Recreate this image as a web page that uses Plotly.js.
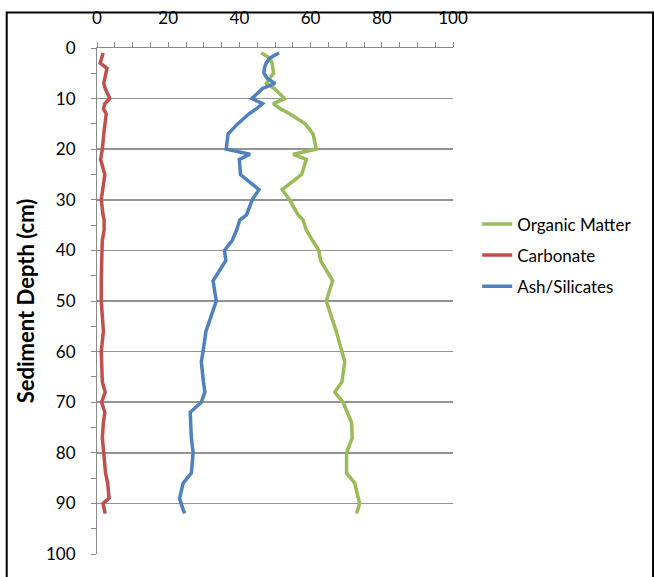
<!DOCTYPE html>
<html>
<head>
<meta charset="utf-8">
<script src="https://cdn.plot.ly/plotly-3.0.1.min.js"></script>
<style>
html,body{margin:0;padding:0;background:#fff;}
#chart{width:654px;height:577px;}
</style>
</head>
<body>
<div id="chart"></div>
<script>
var depth = [1,2,3,4,5,6,7,8,9,10,11,12,13,15,17,20,21,22,25,28,30,33,34,36,38,40,42,46,50,56,60,62,66,68,70,72,74,77,80,84,86,89,90,92];
var organicMatter = [46.2,48.5,49.2,49.5,49.6,48.5,47.6,49.8,51.2,52.7,49.5,51.5,54.1,58.5,60.7,61.6,55.1,58.8,57.5,52.0,54.1,56.5,57.9,58.8,60.5,62.3,62.8,66.2,64.4,67.2,68.8,69.6,68.8,66.8,69.1,70.3,71.5,71.7,70.1,70.1,72.4,73.4,73.8,72.9];
var carbonate = [1.7,1.2,0.9,2.8,2.5,2.1,1.9,2.3,3.0,3.6,2.2,1.8,2.6,2.2,1.9,1.5,1.3,1.0,2.2,1.6,1.2,1.7,2.0,2.0,1.5,1.4,1.3,1.2,1.2,1.8,1.2,1.3,1.5,2.3,1.3,2.2,1.8,1.5,1.9,2.4,3.0,3.4,1.7,2.3];
var ashSilicates = [51.1,48.5,47.5,47.0,46.9,47.8,50.0,46.5,45.0,43.5,46.5,44.8,42.7,39.5,36.8,36.3,43.0,40.0,40.3,45.5,43.6,42.0,40.1,39.2,38.0,35.8,36.2,32.6,33.5,30.6,29.8,29.3,29.9,30.3,29.3,26.2,26.3,26.5,27.0,26.5,24.2,23.2,23.6,24.6];
var seriesNames = ['Organic Matter','Carbonate','Ash/Silicates'];
var xTickVals = [0,20,40,60,80,100];
var yTickVals = [0,10,20,30,40,50,60,70,80,90,100];

var colors = ['#9BBB59','#C0504D','#4F81BD'];
var vals = [organicMatter, carbonate, ashSilicates];
var traces = vals.map(function(v,i){
  return {x:v, y:depth, type:'scatter', mode:'lines', name:seriesNames[i],
    legendgroup:'g'+i, line:{color:colors[i], width:3.5}};
});

var gray = '#8a8a8a';
var layout = {
  width:654, height:577,
  margin:{l:97, r:201, t:48, b:23},
  paper_bgcolor:'#fff', plot_bgcolor:'#fff',
  font:{family:'Lato, "Open Sans", sans-serif', size:17, color:'#000'},
  showlegend:true,
  legend:{x:1.068, xanchor:'left', y:0.59, yanchor:'middle', traceorder:'grouped', tracegroupgap:6,
    font:{size:17}, bgcolor:'rgba(0,0,0,0)'},
  xaxis:{side:'top', range:[0,100], tickvals:xTickVals, ticks:'outside', ticklen:5, tickcolor:gray,
    showline:true, linecolor:gray, linewidth:1, showgrid:false, zeroline:false,
    minor:{dtick:5, ticks:'outside', ticklen:5, tickcolor:gray},
    ticklabelstandoff:11, tickfont:{size:17}},
  yaxis:{range:[100,0], tickvals:yTickVals, ticks:'outside', ticklen:5, tickcolor:gray,
    showline:true, linecolor:gray, linewidth:1, showgrid:true, gridcolor:'#939393', gridwidth:1.5, zeroline:false,
    minor:{dtick:5, ticks:'outside', ticklen:5, tickcolor:gray, showgrid:false},
    ticklabelstandoff:12, tickfont:{size:17},
    title:{text:'<b>Sediment Depth (cm)</b>', font:{size:22}, standoff:5}},
  shapes:[{type:'rect', xref:'paper', yref:'paper', x0:-0.2536, x1:1.562, y0:-0.06, y1:1.0702,
    line:{color:'#000', width:2}, fillcolor:'rgba(0,0,0,0)', layer:'below'}]
};
Plotly.newPlot('chart', traces, layout, {displayModeBar:false, staticPlot:true});
</script>
</body>
</html>
